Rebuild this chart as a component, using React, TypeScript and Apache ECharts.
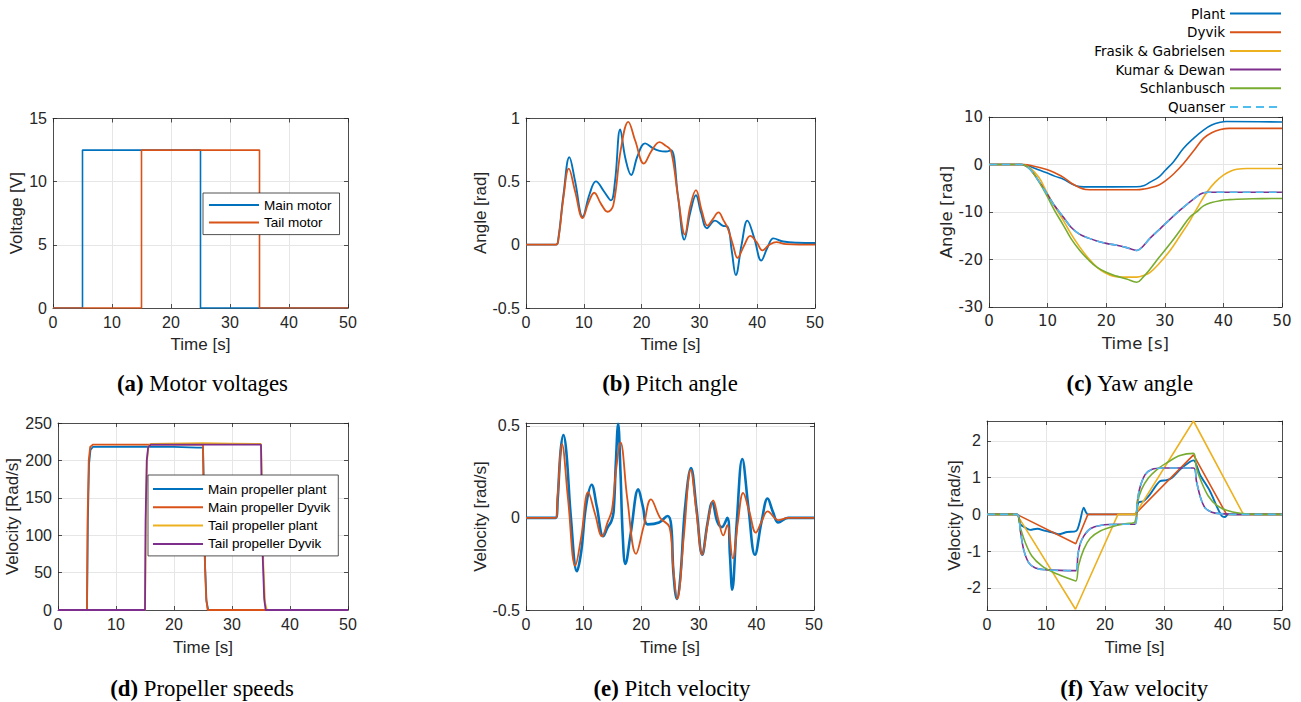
import React, { useEffect, useRef } from 'react';
import * as echarts from 'echarts';

type Pt = [number, number];

// ---------------- colours & fonts ----------------
const BLUE = '#0072BD';
const ORANGE = '#D95319';
const YELLOW = '#EDB120';
const PURPLE = '#7E2F8E';
const GREEN = '#77AC30';
const CYAN = '#4DBEEE';
const AX = '#262626';
const GRID = '#e6e6e6';
const SANS = 'Liberation Sans';
const DEJAVU = 'DejaVu Sans';
const SERIF = 'Liberation Serif';

// ---------------- (a) Motor voltages ----------------
const mainMotor: Pt[] = [[0, 0], [5, 0], [5, 12.5], [25, 12.5], [25, 0], [50, 0]];
const tailMotor: Pt[] = [[0, 0], [15, 0], [15, 12.5], [35, 12.5], [35, 0], [50, 0]];

// ---------------- (b) Pitch angle ----------------
const pitchPlant: Pt[] = [[0, 0], [5.2, 0], [5.6, 0.05], [6.5, 0.4], [7.5, 0.69], [8.5, 0.5], [9.8, 0.22], [11, 0.4], [12.1, 0.5], [13.5, 0.42], [14.7, 0.35], [15.4, 0.5], [16.3, 0.91], [17.2, 0.68], [18.2, 0.55], [19.3, 0.7], [20.6, 0.8], [22, 0.76], [23.1, 0.74], [24.2, 0.735], [25.1, 0.745], [26.3, 0.38], [27.4, 0.04], [28.4, 0.25], [29.4, 0.39], [30.3, 0.25], [31.3, 0.13], [32.7, 0.19], [34, 0.15], [34.9, 0.14], [35.6, -0.05], [36.3, -0.24], [37.3, 0.0], [38.3, 0.19], [39.5, 0.05], [40.7, -0.125], [41.8, -0.02], [42.8, 0.05], [44.5, 0.025], [47, 0.015], [50, 0.013]];
const pitchDyvik: Pt[] = [[0, 0], [5.2, 0], [5.6, 0.04], [6.5, 0.38], [7.4, 0.6], [8.5, 0.42], [9.8, 0.21], [10.8, 0.33], [11.8, 0.41], [13, 0.32], [14.1, 0.26], [15.1, 0.31], [16.4, 0.75], [17.7, 0.97], [18.9, 0.82], [20.4, 0.64], [21.7, 0.74], [23.1, 0.81], [24.2, 0.78], [25.1, 0.74], [26.3, 0.38], [27.5, 0.08], [28.4, 0.3], [29.4, 0.43], [30.4, 0.27], [31.4, 0.15], [32.3, 0.2], [33.3, 0.255], [34.2, 0.19], [34.9, 0.13], [35.8, 0.0], [36.6, -0.105], [37.7, -0.01], [38.8, 0.07], [39.9, 0.02], [40.9, -0.045], [42, -0.005], [43.3, 0.02], [45, 0.005], [50, 0]];

// ---------------- (c) Yaw angle ----------------
const yawPlant: Pt[] = [[0, 0], [5.5, 0], [6.5, -0.2], [8, -0.9], [9.85, -1.76], [11.3, -2.5], [12.7, -3.1], [14, -4.0], [15.5, -4.65], [17, -4.72], [25.2, -4.7], [26.5, -4.4], [27.5, -3.7], [29, -2.6], [30.1, -1.2], [31.5, 0.6], [33.2, 3.4], [35, 5.6], [36.6, 7.25], [38, 8.3], [39.5, 8.9], [40.5, 9.05], [50, 8.95]];
const yawDyvik: Pt[] = [[0, 0], [6, 0], [7.5, -0.3], [9.85, -1.06], [11.3, -1.8], [12.7, -2.7], [14, -3.9], [15.5, -4.9], [16.5, -5.25], [18, -5.3], [25.2, -5.3], [26.5, -5.15], [27.5, -4.9], [29, -4.3], [30.1, -3.45], [31.5, -2.0], [33.2, 0.2], [35, 3.0], [36.6, 5.5], [38, 6.7], [39.5, 7.35], [41, 7.6], [50, 7.6]];
const yawFrasik: Pt[] = [[0, 0], [5.5, 0], [7, -0.7], [8.5, -2.7], [9.85, -5.8], [11.2, -8.8], [12.7, -11.8], [14, -14.6], [15.5, -17.4], [17, -19.8], [18.4, -21.6], [19.8, -22.8], [21.2, -23.5], [23, -23.7], [25.2, -23.7], [26.5, -23.3], [27.5, -22.7], [29, -20.9], [30.9, -18.1], [32.5, -15.2], [34.3, -11.8], [35.8, -8.6], [37.2, -5.8], [38.6, -3.7], [40, -2.25], [41.2, -1.4], [42.3, -1.0], [44, -0.85], [50, -0.85]];
const yawKumar: Pt[] = [[0, 0], [5.5, 0], [7, -1.0], [8.5, -3.5], [9.85, -6.1], [11.2, -8.7], [12.7, -11.1], [14, -13.2], [15.5, -14.7], [17, -15.5], [18.4, -16.1], [20, -16.6], [21.8, -17.0], [23.5, -17.5], [25.2, -18.1], [27.5, -15.5], [29.8, -12.8], [32.6, -9.6], [35.5, -6.7], [36.5, -6.0], [37.5, -5.85], [50, -5.85]];
const yawSchlanbusch: Pt[] = [[0, 0], [5.5, 0], [7, -1.0], [8.5, -3.6], [9.85, -6.5], [11.2, -9.7], [12.7, -12.8], [14, -15.6], [15.5, -18.1], [17, -20.1], [18.4, -21.6], [20, -22.7], [21.8, -23.5], [23.5, -24.1], [25.2, -24.8], [26.3, -23.7], [27.5, -22.0], [29, -19.6], [30.9, -16.7], [32.6, -13.9], [34.3, -11.05], [35.5, -9.9], [36.6, -8.7], [38, -8.0], [39.5, -7.6], [41, -7.4], [42.3, -7.3], [45, -7.2], [50, -7.15]];
const yawQuanser: Pt[] = [[0, 0], [5.5, 0], [7, -1.0], [8.5, -3.5], [9.85, -6.1], [11.2, -8.7], [12.7, -11.1], [14, -13.2], [15.5, -14.7], [17, -15.5], [18.4, -16.1], [20, -16.6], [21.8, -17.0], [23.5, -17.5], [25.2, -18.1], [27.5, -15.5], [29.8, -12.8], [32.6, -9.6], [35.5, -6.7], [36.5, -6.0], [37.5, -5.85], [50, -5.85]];

// ---------------- (d) Propeller speeds ----------------
const mainPropPlant: Pt[] = [[0, 0], [5, 0], [5.15, 120], [5.35, 195], [5.6, 214], [6, 218], [15, 218.5], [20, 218], [24, 217], [25, 217], [25.15, 160], [25.35, 60], [25.6, 12], [25.9, 0], [50, 0]];
const mainPropDyvik: Pt[] = [[0, 0], [5, 0], [5.1, 120], [5.3, 200], [5.55, 218], [6, 221], [25, 221], [25.1, 170], [25.3, 70], [25.55, 15], [25.8, 0], [50, 0]];
const tailPropPlant: Pt[] = [[0, 0], [15, 0], [15.15, 120], [15.35, 200], [15.6, 219], [16, 222], [25, 223], [30, 222.5], [35, 222], [35.15, 170], [35.4, 60], [35.7, 10], [36, 0], [50, 0]];
const tailPropDyvik: Pt[] = [[0, 0], [15, 0], [15.1, 120], [15.3, 200], [15.55, 218], [16, 221], [35, 221], [35.1, 170], [35.3, 70], [35.55, 15], [35.8, 0], [50, 0]];

// ---------------- (e) Pitch velocity ----------------
const pitchVelPlant: Pt[] = [[0, 0], [5.15, 0], [5.5, 0.1], [6, 0.36], [6.5, 0.45], [7, 0.36], [7.8, 0.0], [8.85, -0.29], [9.6, -0.18], [10.4, 0.06], [11.4, 0.18], [12.3, 0.06], [13.4, -0.1], [14.2, -0.05], [14.8, -0.02], [15.2, 0.03], [15.6, 0.3], [16.0, 0.51], [16.4, 0.25], [16.8, -0.1], [17.25, -0.25], [18.2, -0.08], [19.5, 0.155], [20.3, 0.06], [21.1, -0.035], [23.1, -0.025], [24.6, 0.01], [25.2, -0.04], [25.6, -0.3], [26.2, -0.44], [26.8, -0.32], [27.6, 0.05], [28.65, 0.27], [29.6, 0.05], [30.6, -0.2], [31.5, -0.03], [32.35, 0.085], [33.2, -0.02], [34, -0.05], [34.95, 0], [35.4, -0.2], [35.8, -0.39], [36.6, -0.02], [37.55, 0.32], [38.6, 0.06], [39.75, -0.2], [40.9, -0.02], [41.95, 0.105], [42.9, 0.03], [43.8, -0.025], [45.5, 0], [50, 0]];
const pitchVelDyvik: Pt[] = [[0, 0], [5.15, 0], [5.5, 0.12], [6.25, 0.4], [7.3, 0.1], [8.56, -0.26], [9.6, -0.1], [10.8, 0.14], [12, 0.02], [13.2, -0.1], [14.2, -0.02], [14.9, 0.04], [15.6, 0.25], [16.4, 0.41], [17.6, 0.1], [19.1, -0.195], [20.4, -0.05], [21.7, 0.1], [23.3, 0.0], [24.9, -0.05], [25.5, -0.25], [26.27, -0.44], [27.4, -0.1], [28.6, 0.26], [29.6, 0.03], [30.6, -0.2], [31.6, -0.02], [32.5, 0.095], [33.4, -0.01], [34.26, -0.095], [34.95, -0.04], [35.9, -0.22], [36.8, -0.02], [37.7, 0.135], [38.8, 0.03], [39.9, -0.08], [40.9, -0.02], [41.95, 0.035], [43.8, -0.012], [45.5, 0], [50, 0]];

// ---------------- (f) Yaw velocity ----------------
const yawVelPlant: Pt[] = [[0, 0], [5.05, 0], [5.65, -0.27], [6.5, -0.36], [7.3, -0.42], [8.5, -0.39], [9.9, -0.45], [11.3, -0.5], [12.1, -0.54], [13.6, -0.48], [15.1, -0.45], [15.7, -0.22], [16.4, 0.18], [16.8, 0.05], [17.1, 0], [25.05, 0], [25.65, 0.32], [26.5, 0.36], [27.6, 0.54], [29.3, 0.9], [30.45, 0.93], [31.3, 0.99], [32.7, 1.22], [34.1, 1.4], [35, 1.47], [36.1, 1.08], [37.8, 0.63], [38.9, 0.23], [39.8, -0.045], [40.3, -0.07], [40.9, 0], [50, 0]];
const yawVelDyvik: Pt[] = [[0, 0], [5.05, 0], [15.05, -0.8], [17.1, 0], [25.05, 0], [35, 1.62], [40.6, 0], [50, 0]];
const yawVelFrasik: Pt[] = [[0, 0], [5.05, 0], [15, -2.58], [22.2, 0], [25.1, 0], [35, 2.54], [43.45, 0], [50, 0]];
const yawVelKumar: Pt[] = [[0, 0], [5.05, 0], [5.65, -0.45], [6.2, -0.95], [7.06, -1.31], [8.2, -1.46], [10.2, -1.51], [15.1, -1.53], [15.4, -1.1], [15.8, -0.8], [16.4, -0.59], [17.5, -0.39], [19.2, -0.3], [22.6, -0.27], [25.1, -0.27], [25.5, 0.36], [25.9, 0.72], [26.8, 1.08], [27.9, 1.22], [29.9, 1.26], [35, 1.26], [35.5, 0.9], [36.2, 0.45], [36.95, 0.18], [38.1, 0.06], [39.5, 0.02], [42.3, 0], [50, 0]];
const yawVelSchlanbusch: Pt[] = [[0, 0], [5.05, 0], [5.65, -0.36], [6.5, -0.77], [7.6, -1.13], [9.3, -1.4], [11.3, -1.58], [13.6, -1.73], [15.05, -1.81], [15.5, -1.4], [16.4, -0.95], [17.5, -0.65], [19.2, -0.45], [21.5, -0.32], [23.7, -0.25], [25.05, -0.21], [25.5, 0.32], [26.2, 0.68], [27.35, 0.99], [28.8, 1.22], [30.45, 1.4], [32.7, 1.6], [35, 1.66], [35.5, 1.26], [36.4, 0.86], [37.5, 0.5], [38.9, 0.25], [40.6, 0.11], [42.9, 0.03], [45.7, 0], [50, 0]];
const yawVelQuanser: Pt[] = [[0, 0], [5.05, 0], [5.65, -0.45], [6.2, -0.95], [7.06, -1.31], [8.2, -1.46], [10.2, -1.51], [15.1, -1.53], [15.4, -1.1], [15.8, -0.8], [16.4, -0.59], [17.5, -0.39], [19.2, -0.3], [22.6, -0.27], [25.1, -0.27], [25.5, 0.36], [25.9, 0.72], [26.8, 1.08], [27.9, 1.22], [29.9, 1.26], [35, 1.26], [35.5, 0.9], [36.2, 0.45], [36.95, 0.18], [38.1, 0.06], [39.5, 0.02], [42.3, 0], [50, 0]];

// ---------------- labels ----------------
const modelNames = ['Plant', 'Dyvik', 'Frasik & Gabrielsen', 'Kumar & Dewan', 'Schlanbusch', 'Quanser'];
const motorNames = ['Main motor', 'Tail motor'];
const propNames = ['Main propeller plant', 'Main propeller Dyvik', 'Tail propeller plant', 'Tail propeller Dyvik'];
const captionTags = ['(a)', '(b)', '(c)', '(d)', '(e)', '(f)'];
const captionTexts = ['Motor voltages', 'Pitch angle', 'Yaw angle', 'Propeller speeds', 'Pitch velocity', 'Yaw velocity'];
const yNames = ['Voltage [V]', 'Angle [rad]', 'Angle [rad]', 'Velocity [Rad/s]', 'Velocity [rad/s]', 'Velocity [rad/s]'];
const xName = 'Time [s]';
const timeMin = 0;
const timeMax = 50;
const timeStep = 10;

type Panel = {
  left: number; top: number; width: number; height: number;
  yMin: number; yMax: number; yInterval?: number;
  yNameGap: number; xNameGap: number; font: string; tickSize: number;
  capX: number; capY: number;
};

const panels: Panel[] = [
  { left: 53, top: 118.5, width: 295, height: 189.5, yMin: 0, yMax: 15, yInterval: 5, yNameGap: 27, xNameGap: 28, font: SANS, tickSize: 16, capX: 202.5, capY: 383 },
  { left: 526, top: 118, width: 289, height: 190, yMin: -0.5, yMax: 1, yInterval: 0.5, yNameGap: 36, xNameGap: 28, font: SANS, tickSize: 16, capX: 670, capY: 383 },
  { left: 989, top: 117, width: 293, height: 190, yMin: -30, yMax: 10, yInterval: 10, yNameGap: 31, xNameGap: 28, font: DEJAVU, tickSize: 15, capX: 1130, capY: 383 },
  { left: 58, top: 423, width: 290, height: 187, yMin: 0, yMax: 250, yInterval: 50, yNameGap: 34, xNameGap: 29, font: SANS, tickSize: 16, capX: 202, capY: 688 },
  { left: 526, top: 423, width: 288, height: 187, yMin: -0.5, yMax: 0.515, yInterval: 0.5, yNameGap: 35, xNameGap: 29, font: SANS, tickSize: 16, capX: 672, capY: 688 },
  { left: 987, top: 421, width: 295, height: 189, yMin: -2.6, yMax: 2.54, yNameGap: 23, xNameGap: 29, font: SANS, tickSize: 16, capX: 1134.5, capY: 688 },
];

function line(name: string, data: Pt[], color: string, gi: number, o: { smooth?: number; width?: number; dash?: any } = {}) {
  return {
    type: 'line', name, data, xAxisIndex: gi * 2, yAxisIndex: gi * 2,
    symbol: 'none', showSymbol: false, silent: true,
    smooth: o.smooth ?? false,
    lineStyle: { color, width: o.width ?? 1.6, type: o.dash ?? 'solid' },
    itemStyle: { color },
    emphasis: { disabled: true },
  };
}

function buildOption() {
  const tick = { show: true, inside: true, length: 4, lineStyle: { color: AX, width: 0.8 } };
  const axLine = { show: true, onZero: false, lineStyle: { color: AX, width: 0.8 } };
  const grid = panels.map((p) => ({ left: p.left, top: p.top, width: p.width, height: p.height }));
  const xAxis: any[] = [];
  const yAxis: any[] = [];
  panels.forEach((p, i) => {
    const nameFont = p.font === DEJAVU ? 16.5 : 17;
    xAxis.push({
      type: 'value', gridIndex: i, min: timeMin, max: timeMax, interval: timeStep, position: 'bottom',
      name: xName, nameLocation: 'middle', nameGap: p.xNameGap,
      nameTextStyle: { fontSize: nameFont, color: AX, fontFamily: p.font },
      axisLine: axLine, axisTick: tick,
      axisLabel: { fontSize: p.tickSize, color: AX, fontFamily: p.font, margin: 6 },
      splitLine: { show: true, lineStyle: { color: GRID, width: 1 } },
    });
    xAxis.push({
      type: 'value', gridIndex: i, min: timeMin, max: timeMax, interval: timeStep, position: 'top',
      axisLine: axLine, axisTick: tick, axisLabel: { show: false }, splitLine: { show: false },
    });
    const yBase: any = { type: 'value', gridIndex: i, min: p.yMin, max: p.yMax };
    if (p.yInterval !== undefined) yBase.interval = p.yInterval;
    yAxis.push({
      ...yBase, position: 'left',
      name: yNames[i], nameLocation: 'middle', nameGap: p.yNameGap,
      nameTextStyle: { fontSize: nameFont, color: AX, fontFamily: p.font },
      axisLine: axLine, axisTick: tick,
      axisLabel: {
        fontSize: p.tickSize, color: AX, fontFamily: p.font, margin: 6,
        showMaxLabel: i === 4 || i === 5 ? false : true,
        showMinLabel: i === 5 ? false : true,
      },
      splitLine: { show: true, lineStyle: { color: GRID, width: 1 } },
    });
    yAxis.push({
      ...yBase, position: 'right',
      axisLine: axLine, axisTick: tick, axisLabel: { show: false }, splitLine: { show: false },
    });
  });

  const series: any[] = [
    line(motorNames[0], mainMotor, BLUE, 0),
    line(motorNames[1], tailMotor, ORANGE, 0),

    line(modelNames[0], pitchPlant, BLUE, 1, { smooth: 0.4, width: 1.9 }),
    line(modelNames[1], pitchDyvik, ORANGE, 1, { smooth: 0.4, width: 1.8 }),

    line(modelNames[0], yawPlant, BLUE, 2, { smooth: 0.4 }),
    line(modelNames[1], yawDyvik, ORANGE, 2, { smooth: 0.4 }),
    line(modelNames[2], yawFrasik, YELLOW, 2, { smooth: 0.4 }),
    line(modelNames[3], yawKumar, PURPLE, 2, { smooth: 0.3 }),
    line(modelNames[4], yawSchlanbusch, GREEN, 2, { smooth: 0.4 }),
    line(modelNames[5], yawQuanser, CYAN, 2, { smooth: 0.3, dash: [8, 5] }),

    line(propNames[0], mainPropPlant, BLUE, 3, { width: 1.8 }),
    line(propNames[1], mainPropDyvik, ORANGE, 3, { width: 1.8 }),
    line(propNames[2], tailPropPlant, YELLOW, 3, { width: 1.8 }),
    line(propNames[3], tailPropDyvik, PURPLE, 3, { width: 1.8 }),

    line(modelNames[0], pitchVelPlant, BLUE, 4, { smooth: 0.4, width: 2.6 }),
    line(modelNames[1], pitchVelDyvik, ORANGE, 4, { smooth: 0.4, width: 1.8 }),

    line(modelNames[0], yawVelPlant, BLUE, 5, { smooth: 0.3, width: 1.9 }),
    line(modelNames[1], yawVelDyvik, ORANGE, 5),
    line(modelNames[2], yawVelFrasik, YELLOW, 5),
    line(modelNames[3], yawVelKumar, PURPLE, 5, { smooth: 0.3 }),
    line(modelNames[4], yawVelSchlanbusch, GREEN, 5, { smooth: 0.3 }),
    line(modelNames[5], yawVelQuanser, CYAN, 5, { smooth: 0.3, dash: [8, 5] }),
  ];

  const hideSymbol = { opacity: 0 };
  const legend = [
    {
      data: modelNames, orient: 'vertical', align: 'right', right: 19, top: 6.5, padding: 0,
      itemGap: 4.7, itemWidth: 51, itemHeight: 14, selectedMode: false, itemStyle: hideSymbol,
      textStyle: { fontFamily: DEJAVU, fontSize: 13.5, color: '#000' },
    },
    {
      data: motorNames, orient: 'vertical', align: 'left', left: 203, top: 193, padding: [5, 8, 5, 5],
      itemGap: 3.6, itemWidth: 50, itemHeight: 14, selectedMode: false, itemStyle: hideSymbol,
      backgroundColor: '#fff', borderColor: AX, borderWidth: 0.8,
      textStyle: { fontFamily: SANS, fontSize: 13.5, color: '#000' },
    },
    {
      data: propNames, orient: 'vertical', align: 'left', left: 148, top: 475, padding: [7, 8, 5, 4],
      itemGap: 4.3, itemWidth: 50, itemHeight: 14, selectedMode: false, itemStyle: hideSymbol,
      backgroundColor: '#fff', borderColor: AX, borderWidth: 0.8,
      textStyle: { fontFamily: SANS, fontSize: 13.5, color: '#000' },
    },
  ];

  const graphic = panels.map((p, i) => ({
    type: 'text', x: p.capX, y: p.capY, silent: true,
    style: {
      text: `{b|${captionTags[i]}} ${captionTexts[i]}`,
      align: 'center', verticalAlign: 'middle',
      fontFamily: SERIF, fontSize: 22.8, fill: '#000',
      rich: { b: { fontFamily: SERIF, fontSize: 22.8, fontWeight: 'bold', fill: '#000' } },
    },
  }));

  return {
    animation: false,
    backgroundColor: '#fff',
    grid, xAxis, yAxis, series, legend, graphic,
  };
}

export default function App() {
  const ref = useRef<HTMLDivElement>(null);
  useEffect(() => {
    if (!ref.current) return;
    const chart = echarts.init(ref.current, undefined, { renderer: 'svg' });
    chart.setOption(buildOption() as any);
    return () => chart.dispose();
  }, []);
  return <div ref={ref} style={{ position: 'absolute', left: 0, top: 0, width: 1301, height: 702 }} />;
}
